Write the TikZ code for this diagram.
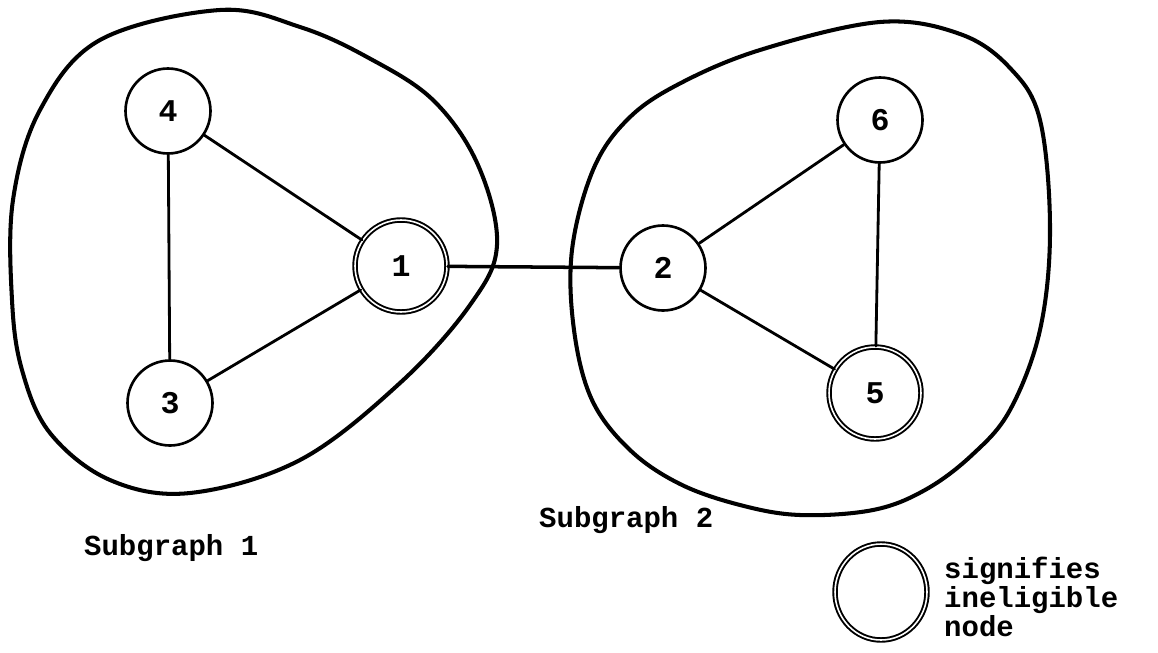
\documentclass[tikz,border=0pt]{standalone}
\usepackage{fontspec}
\setmonofont{Liberation Mono}
\usetikzlibrary{shapes.geometric}
\begin{document}
\begin{tikzpicture}[x=0.02cm, y=-0.02cm, font=\ttfamily\bfseries\fontsize{16.5}{19}\selectfont, line join=round, line cap=round]
	\tikzset{
		vertex/.style={circle, draw, line width=1.5pt, inner sep=0pt, minimum size=1.7cm, fill=white, font=\ttfamily\bfseries\fontsize{18}{20}\selectfont},
		ineligible/.style={vertex, line width=1.1pt, double=white, double distance=0.9pt, minimum size=1.84cm},
		blob/.style={line width=2.3pt},
		edge/.style={line width=1.6pt}
	}
	\useasboundingbox (0,0) rectangle (1158,652);
	
	% Các vùng bao quanh đồ thị con
	\draw[blob] plot[smooth cycle, tension=0.6] coordinates {(220,10) (100,40) (40,110) (13,200) (12,300) (22,370) (50,433) (110,480) (190,493) (300,460) (400,383) (470,305) (497,245) (478,165) (433,100) (367,57) (300,27)};
	\draw[blob] plot[smooth cycle, tension=0.6] coordinates {(880,22) (760,50) (677,85) (627,120) (593,170) (572,250) (574,330) (592,400) (630,450) (680,484) (740,505) (800,515) (873,510) (925,490) (972,455) (1010,410) (1040,330) (1050,230) (1040,120) (1010,68) (960,34)};
	
	% Các đỉnh
	\node[vertex] (n4) at (168,111) {4};
	\node[vertex] (n3) at (170,403) {3};
	\node[ineligible] (n1) at (401,266) {1};
	\node[vertex] (n2) at (663,268) {2};
	\node[vertex] (n6) at (880,120) {6};
	\node[ineligible] (n5) at (875,393) {5};
	
	% Các cạnh nối
	\draw[edge] (n4) -- (n1);
	\draw[edge] (n4) -- (n3);
	\draw[edge] (n3) -- (n1);
	\draw[edge, line width=2pt] (n1) -- (n2);
	\draw[edge] (n2) -- (n6);
	\draw[edge] (n2) -- (n5);
	\draw[edge] (n6) -- (n5);
	
	% Nhãn
	\node[anchor=west] (lab1) at (78,548) {Subgraph 1};
	\node[anchor=west] (lab2) at (533,520) {Subgraph 2};
	
	% Chú thích
	\node[ineligible, ellipse, minimum width=1.84cm, minimum height=1.92cm] (key) at (881,592) {};
	\node[anchor=west, align=left, font=\ttfamily\bfseries\fontsize{16.5}{14.5}\selectfont] (keytext) at (938,597) {signifies\\ineligible\\node};
\end{tikzpicture}
\end{document}
